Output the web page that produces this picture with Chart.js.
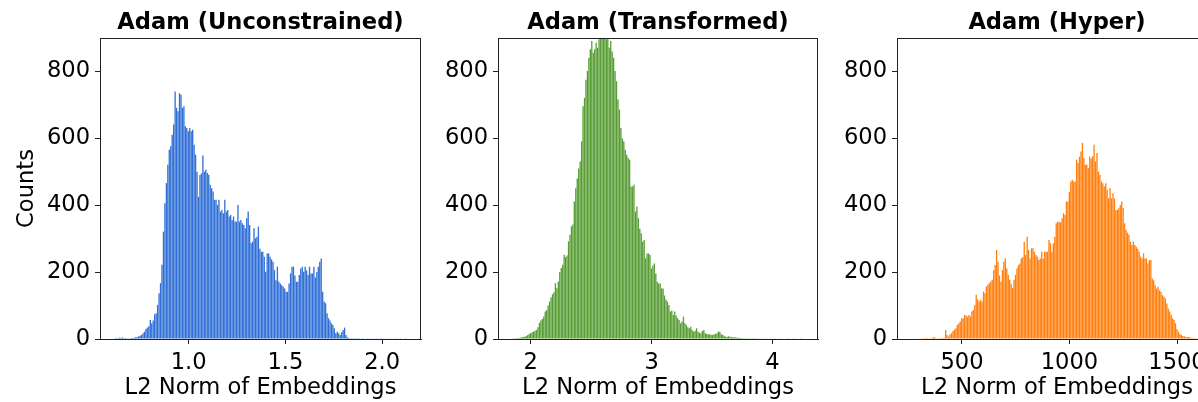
<!DOCTYPE html>
<html>
<head>
<meta charset="utf-8">
<script src="https://cdn.jsdelivr.net/npm/chart.js@4.4.1/dist/chart.umd.min.js"></script>
<style>
  html, body { margin: 0; padding: 0; background: #fff; overflow: hidden; }
  body { width: 1198px; height: 402px; position: relative; }
  canvas { position: absolute; top: 0; }
</style>
</head>
<body>
<canvas id="c1" width="440" height="402" style="left:0px"></canvas>
<canvas id="c2" width="390" height="402" style="left:440px"></canvas>
<canvas id="c3" width="400" height="402" style="left:830px"></canvas>
<script>
// histogram counts, 200 bins per panel
const unconstrainedCounts = [
  2, 3, 2, 4, 3, 5, 2, 3, 1, 2,
  2, 3, 3, 4, 5, 6, 8, 10, 12, 17,
  22, 30, 34, 38, 57, 47, 55, 74, 77, 102,
  137, 167, 222, 321, 406, 466, 521, 566, 576, 611,
  641, 740, 691, 681, 735, 730, 691, 696, 636, 631,
  621, 631, 621, 626, 581, 551, 500, 425, 490, 495,
  549, 500, 506, 496, 491, 461, 451, 441, 416, 416,
  401, 416, 381, 386, 376, 416, 381, 386, 366, 371,
  356, 366, 351, 351, 401, 351, 356, 346, 341, 331,
  361, 381, 341, 286, 291, 331, 301, 306, 336, 270,
  261, 261, 246, 201, 256, 256, 246, 238, 231, 206,
  176, 216, 171, 166, 161, 156, 151, 141, 141, 166,
  196, 216, 216, 190, 171, 171, 191, 211, 216, 201,
  216, 205, 191, 216, 196, 196, 216, 184, 200, 216,
  231, 241, 141, 112, 107, 77, 62, 55, 47, 42,
  32, 17, 22, 17, 12, 20, 27, 34, 12, 5,
  3, 2, 3, 1, 2, 1, 1, 2, 0, 1,
  1, 0, 1, 2, 0, 1, 0, 1, 0, 1,
  0, 1, 1, 0, 0, 1, 0, 0, 1, 0,
  0, 0, 1, 0, 0, 1, 0, 0, 0, 1
];
const transformedCounts = [
  1, 2, 2, 3, 3, 4, 5, 6, 7, 9,
  12, 15, 17, 20, 22, 25, 27, 35, 48, 55,
  60, 67, 82, 87, 100, 112, 125, 134, 140, 167,
  152, 172, 200, 212, 222, 252, 245, 250, 292, 312,
  337, 342, 411, 451, 480, 510, 531, 591, 696, 721,
  775, 801, 841, 866, 891, 856, 866, 886, 871, 896,
  905, 910, 900, 905, 896, 910, 871, 891, 860, 841,
  801, 771, 716, 686, 631, 600, 591, 566, 551, 541,
  536, 456, 456, 461, 381, 396, 361, 330, 316, 291,
  296, 241, 256, 256, 251, 211, 220, 226, 196, 171,
  166, 166, 151, 151, 130, 117, 112, 102, 82, 85,
  72, 82, 70, 62, 57, 47, 52, 67, 47, 42,
  35, 32, 37, 27, 22, 25, 32, 22, 19, 17,
  24, 27, 17, 15, 14, 14, 13, 12, 14, 15,
  17, 22, 22, 14, 12, 10, 7, 7, 8, 7,
  6, 5, 5, 5, 4, 4, 3, 3, 2, 2,
  3, 1, 2, 1, 1, 2, 1, 1, 0, 1,
  1, 0, 1, 0, 1, 0, 0, 1, 0, 0,
  1, 0, 0, 0, 1, 0, 0, 0, 0, 1,
  0, 0, 0, 1, 0, 0, 0, 0, 1, 0
];
const hyperCounts = [
  0, 0, 0, 0, 1, 0, 2, 1, 2, 1,
  3, 2, 1, 2, 4, 6, 3, 2, 1, 2,
  3, 2, 4, 27, 12, 7, 14, 17, 24, 28,
  32, 42, 47, 52, 62, 62, 72, 70, 67, 72,
  67, 82, 87, 102, 132, 118, 112, 117, 112, 142,
  137, 157, 162, 167, 172, 177, 206, 221, 266, 231,
  190, 172, 206, 231, 241, 211, 192, 177, 165, 152,
  177, 192, 211, 221, 226, 241, 245, 291, 251, 306,
  266, 241, 271, 271, 260, 251, 246, 236, 241, 261,
  241, 261, 261, 261, 296, 286, 261, 286, 306, 346,
  351, 349, 349, 361, 376, 371, 411, 411, 440, 471,
  476, 471, 471, 536, 526, 545, 561, 586, 541, 521,
  521, 511, 546, 540, 546, 581, 531, 556, 501, 491,
  471, 466, 456, 466, 446, 421, 451, 421, 436, 420,
  386, 386, 391, 401, 411, 391, 346, 326, 318, 311,
  291, 281, 291, 281, 276, 270, 261, 246, 241, 256,
  241, 241, 226, 236, 236, 181, 176, 161, 151, 156,
  145, 141, 131, 126, 121, 106, 91, 82, 72, 62,
  57, 47, 30, 22, 15, 12, 9, 8, 6, 6,
  6, 5, 3, 3, 2, 2, 1, 1, 1, 1
];

// bin start / width for each panel
const unconstrainedBinStart = 0.617, unconstrainedBinWidth = 0.00755;
const transformedBinStart = 1.849, transformedBinWidth = 0.01204;
const hyperBinStart = 265.4, hyperBinWidth = 6.765;

const yTicks = [0, 200, 400, 600, 800];
const yTickLabels = ['0', '200', '400', '600', '800'];
const unconstrainedTicks = [1.0, 1.5, 2.0];
const unconstrainedTickLabels = ['1.0', '1.5', '2.0'];
const transformedTicks = [2, 3, 4];
const transformedTickLabels = ['2', '3', '4'];
const hyperTicks = [500, 1000, 1500];
const hyperTickLabels = ['500', '1000', '1500'];

const titles = ['Adam (Unconstrained)', 'Adam (Transformed)', 'Adam (Hyper)'];
const xLabel = 'L2 Norm of Embeddings';
const yLabel = 'Counts';

const FONT = 'DejaVu Sans';
const FONT_SIZE = 22.6;

const frame = {
    id: 'frame',
    afterDraw(chart) {
        const { ctx, chartArea } = chart;
        ctx.save();
        ctx.strokeStyle = '#222';
        ctx.lineWidth = 1;
        ctx.strokeRect(Math.round(chartArea.left) + 0.5, Math.round(chartArea.top) + 0.5,
            Math.round(chartArea.right - chartArea.left) - 1, Math.round(chartArea.bottom - chartArea.top));
        ctx.restore();
    }
};

function histChart(id, counts, binStart, binWidth, color, xMin, xMax, ticks, tickLabels, title, showYTitle, yWidth, rightPad) {
    const points = counts.map((c, i) => ({ x: binStart + (i + 0.5) * binWidth, y: c }));
    const font = { family: FONT, size: FONT_SIZE };
    return new Chart(document.getElementById(id), {
        type: 'bar',
        data: {
            datasets: [{
                data: points,
                backgroundColor: color,
                borderWidth: 0,
                barPercentage: 0.9,
                categoryPercentage: 1,
                grouped: false
            }]
        },
        options: {
            responsive: false,
            animation: false,
            events: [],
            layout: { padding: { top: 0, right: rightPad, bottom: 0, left: 0 } },
            plugins: {
                legend: { display: false },
                tooltip: { enabled: false },
                title: {
                    display: true,
                    text: title,
                    fullSize: false,
                    color: '#000',
                    font: { family: FONT, size: FONT_SIZE, weight: 'bold' },
                    padding: { top: 9.4, bottom: 1.48 }
                }
            },
            scales: {
                x: {
                    type: 'linear',
                    min: xMin,
                    max: xMax,
                    offset: false,
                    grid: { offset: false, drawOnChartArea: false, drawTicks: true, tickLength: 5, tickColor: '#222' },
                    border: { display: true, color: '#222', width: 1 },
                    ticks: {
                        font: font, color: '#000', padding: 6, maxRotation: 0, autoSkip: false,
                        callback: (v, i) => tickLabels[i]
                    },
                    afterBuildTicks: s => { s.ticks = ticks.map(v => ({ value: v })); },
                    afterFit: s => { s.height = 63; },
                    title: { display: true, text: xLabel, font: font, color: '#000', padding: { top: 0, bottom: 0 } }
                },
                y: {
                    min: 0,
                    max: 900,
                    grid: { offset: false, drawOnChartArea: false, drawTicks: true, tickLength: 5, tickColor: '#222' },
                    border: { display: true, color: '#222', width: 1 },
                    ticks: {
                        font: font, color: '#000', padding: 5,
                        callback: (v, i) => yTickLabels[i]
                    },
                    afterBuildTicks: s => { s.ticks = yTicks.map(v => ({ value: v })); },
                    afterFit: s => { s.width = yWidth; },
                    title: { display: showYTitle, text: yLabel, font: font, color: '#000', padding: { top: 13.5, bottom: 0 } }
                }
            }
        },
        plugins: [frame]
    });
}

histChart('c1', unconstrainedCounts, unconstrainedBinStart, unconstrainedBinWidth, '#2f6fd6',
    0.542, 2.201, unconstrainedTicks, unconstrainedTickLabels, titles[0], true, 100, 19);
histChart('c2', transformedCounts, transformedBinStart, transformedBinWidth, '#579d34',
    1.729, 4.377, transformedTicks, transformedTickLabels, titles[1], false, 58, 12);
histChart('c3', hyperCounts, hyperBinStart, hyperBinWidth, '#ff7f0e',
    198, 1686, hyperTicks, hyperTickLabels, titles[2], false, 67, 13);
</script>
</body>
</html>
